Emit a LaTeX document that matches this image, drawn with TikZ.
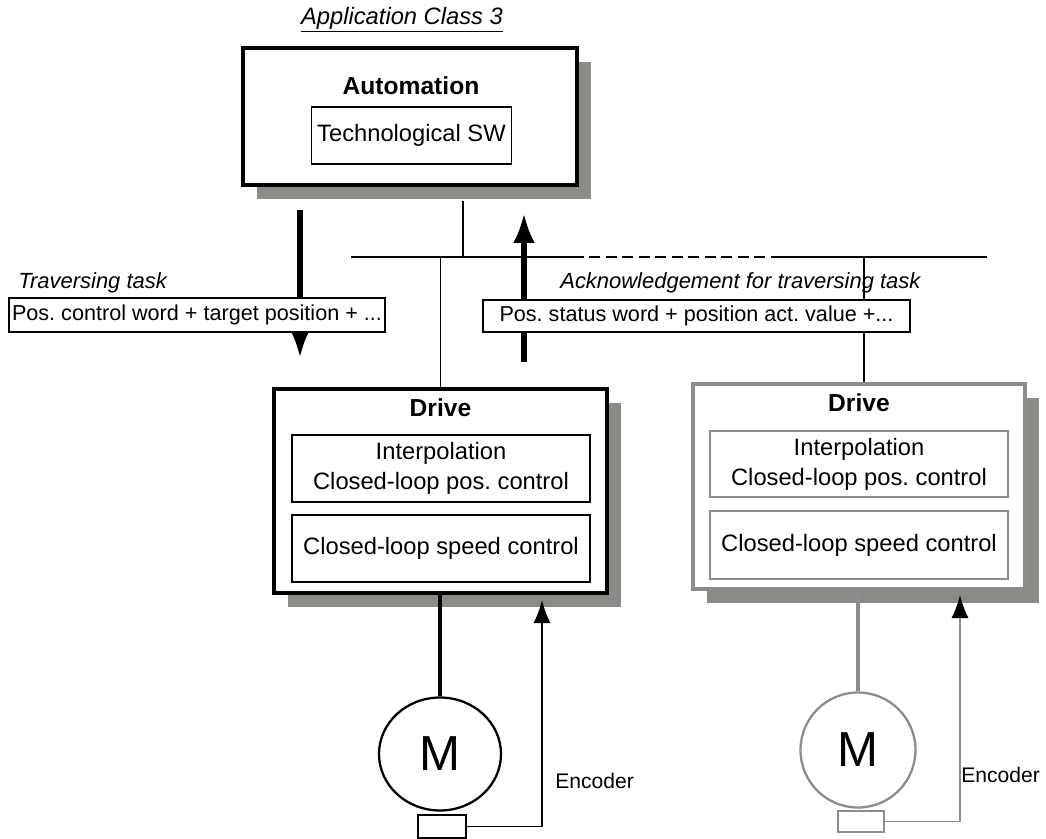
\documentclass[tikz,border=0pt]{standalone}
\usepackage{fontspec}
\setmainfont{Liberation Sans}
\usepackage{tikz}
\usetikzlibrary{positioning, arrows.meta, shapes.geometric, shadows}
\usepackage{xcolor}
\definecolor{shadowgray}{RGB}{137,139,135}
\definecolor{drivegray}{RGB}{140,140,140}
\tikzstyle{Box} = [
draw,
line width=2pt,
fill=white,
drop shadow={shadow xshift=0.28cm, shadow yshift=-0.28cm,
fill=shadowgray, opacity=1}]
\tikzstyle{Inner} = [draw, line width=0.85pt, fill=white, align=center,
font=\fontsize{13.5}{17}\selectfont]
\tikzstyle{Msg} = [draw, line width=0.9pt, fill=white, inner sep=0pt,
font=\fontsize{12.3}{15}\selectfont]
\tikzstyle{Label} = [inner sep=0pt, anchor=west,
font=\fontsize{12.5}{15}\selectfont\itshape]
\tikzstyle{Note} = [inner sep=0pt, anchor=west,
font=\fontsize{12}{14}\selectfont]
\tikzstyle{Title} = [font=\fontsize{14}{17}\selectfont\bfseries]
\tikzstyle{Motor} = [draw, ellipse, line width=1.3pt, fill=white,
font=\fontsize{28}{32}\selectfont]
\tikzstyle{Sensor} = [draw, line width=0.85pt, fill=white, inner sep=0pt]
\tikzstyle{Arrow} = [line width=3pt, -{Latex[length=0.6cm, width=0.44cm]}]
\tikzstyle{Feedback} = [line width=0.85pt,
-{Latex[length=0.46cm, width=0.34cm, color=black]}]
\tikzstyle{Bus} = [line width=1pt]

\begin{document}
\frenchspacing
\begin{tikzpicture}[x=0.02cm, y=-0.02cm]
    \useasboundingbox (0,0) rectangle (1046,839);

    % bus and telegram arrows
    \coordinate (b1) at (351,257);
    \coordinate (b2) at (573,257);
    \coordinate (b3) at (773,257);
    \coordinate (b4) at (987,257);
    \coordinate (b5) at (463,257);
    \coordinate (b6) at (864,257);
    \coordinate (a1) at (300,210);
    \coordinate (a2) at (300,358);
    \coordinate (a3) at (524,362);
    \coordinate (a4) at (524,213);
    \draw[Bus] (b1) -- (b2);
    \draw[Bus, dash pattern=on 0.22cm off 0.11cm] (b2) -- (b3);
    \draw[Bus] (b3) -- (b4);
    \draw[Arrow] (a1) -- (a2);
    \draw[Arrow] (a3) -- (a4);

    \node[font=\fontsize{13.5}{16}\selectfont\itshape] (0) at (402,20)
        {\underline{Application Class 3}};
    \node[Box, minimum width=6.68cm, minimum height=2.74cm] (1) at (410,116.5) {};
    \node[Title] (2) at (411,86) {Automation};
    \node[Inner, minimum width=3.9cm, minimum height=1.14cm] (3) at (411.5,135.5)
        {Technological SW};

    \node[Label] (20) at (18,283) {Traversing task};
    \node[Label] (21) at (560,283) {Acknowledgement for traversing task};

    % first drive
    \node[Box, minimum width=6.66cm, minimum height=4.08cm] (5) at (440.5,491) {};
    \node[Title, below=3pt of 5.north] (6) {Drive};
    \node[Inner, minimum width=5.96cm, minimum height=1.34cm] (7) at (441,468.5)
        {Interpolation\\Closed-loop pos. control};
    \node[Inner, minimum width=5.96cm, minimum height=1.34cm] (8) at (441,548.5)
        {Closed-loop speed control};

    % second drive
    \node[Box, draw=drivegray, minimum width=6.64cm, minimum height=4.1cm] (9)
        at (859,486.5) {};
    \node[Title, below=3pt of 9.north] (10) {Drive};
    \node[Inner, draw=drivegray, minimum width=5.96cm, minimum height=1.32cm] (11)
        at (859,464) {Interpolation\\Closed-loop pos. control};
    \node[Inner, draw=drivegray, minimum width=5.96cm, minimum height=1.36cm] (12)
        at (859,545) {Closed-loop speed control};

    \draw[Bus] (b5) -- ([yshift=-0.28cm]1.south -| b5);
    \draw[Bus] (5.north) -- (5.north |- b1);
    \draw[Bus] (b6) -- (b6 |- 9.north);

    \node[Msg, minimum width=7.52cm, minimum height=0.68cm] (22) at (197,315)
        {Pos. control word + target position + ...};
    \node[Msg, minimum width=8.54cm, minimum height=0.64cm] (23) at (696.5,316)
        {Pos. status word + position act. value +...};

    % motors with encoders
    \node[Motor, minimum width=2.44cm, minimum height=2.26cm] (13) at (440,754) {M};
    \node[Sensor, minimum width=0.96cm, minimum height=0.46cm] (14) at (442,826.5) {};
    \coordinate (e1) at (542,600);
    \node[Note] (15) at (555,781) {Encoder};
    \draw[line width=2pt] (13.north) -- (13.north |- 5.south);
    \draw[Feedback] (14.east) -| (e1);

    \node[Motor, draw=drivegray, minimum size=2.3cm] (17) at (858,750) {M};
    \node[Sensor, draw=drivegray, minimum width=0.92cm, minimum height=0.42cm] (18)
        at (861,821.5) {};
    \coordinate (e2) at (960,595);
    \node[Note] (19) at (961,775) {Encoder};
    \draw[line width=2pt, drivegray] (17.north) -- (17.north |- 9.south);
    \draw[Feedback, drivegray] (18.east) -| (e2);
\end{tikzpicture}
\end{document}
